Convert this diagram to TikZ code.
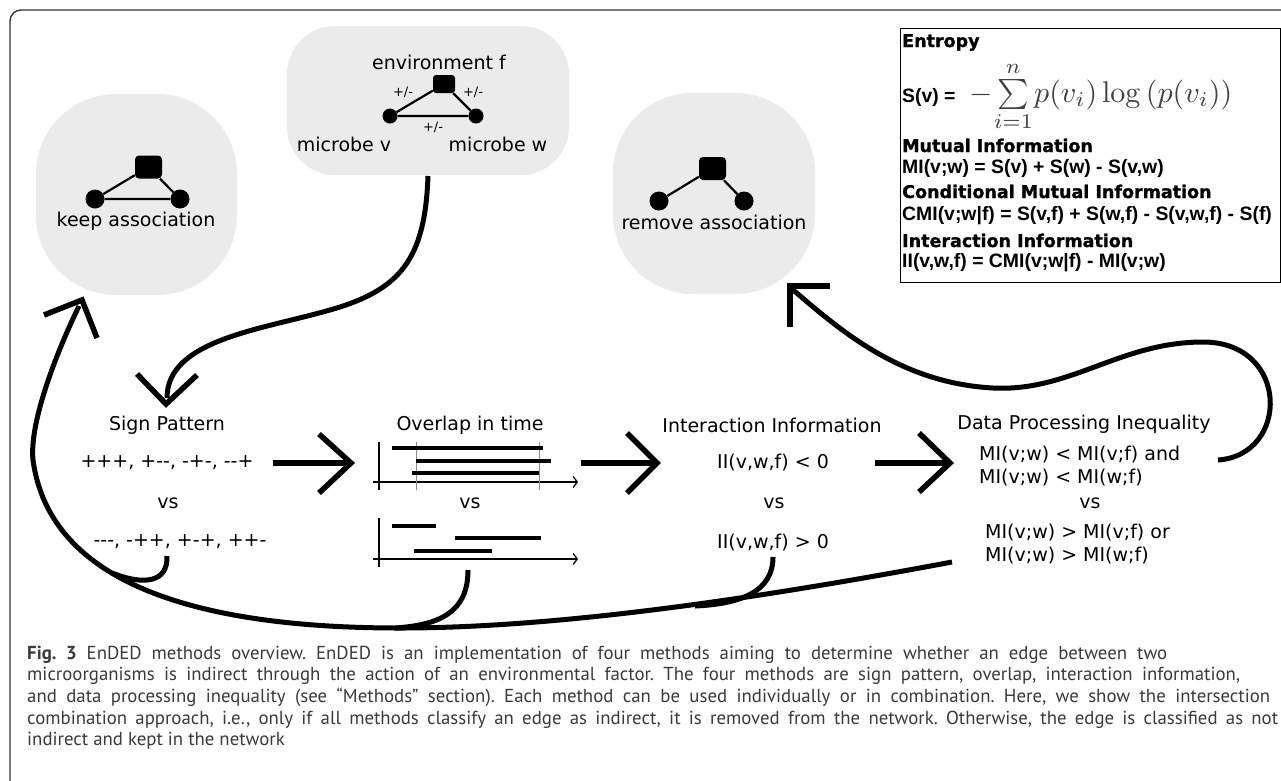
\documentclass[tikz,border=0pt]{standalone}
\usepackage[no-math]{fontspec}
\setmainfont{DejaVu Sans}[Ligatures=TeXOff]
\newfontfamily\fmlfont{Liberation Sans}[Ligatures=TeXOff]
\newfontface\headfont{DejaVu Sans Bold}[FakeBold=1.2]
\newfontfamily\capfont{PT Sans}
\usetikzlibrary{arrows.meta}
\definecolor{blobgray}{HTML}{EBEBEB}
\definecolor{captext}{HTML}{3A3A3A}
\frenchspacing
\begin{document}
\begin{tikzpicture}[x=1pt,y=-1pt,
  blob/.style={fill=blobgray, draw=none, inner sep=0},
  sq/.style={fill=black, rounded corners=4pt, inner sep=0, minimum width=27pt, minimum height=23pt},
  sqs/.style={sq, minimum width=22pt, minimum height=18pt, rounded corners=3pt},
  dot/.style={circle, fill=black, inner sep=0, minimum size=19pt},
  dots/.style={dot, minimum size=15pt},
  gedge/.style={line width=2.2pt},
  lbl/.style={font=\fontsize{19}{22}\selectfont, inner sep=0},
  pmlbl/.style={font=\fontsize{13}{15}\selectfont, inner sep=0},
  head/.style={font=\headfont\fontsize{17.5}{20}\selectfont, inner sep=0, anchor=base west},
  fml/.style={font=\fmlfont\bfseries\fontsize{19.4}{22}\selectfont, inner sep=0, anchor=base west},
  flow/.style={line width=5pt},
  shaft/.style={line width=6pt},
  chev/.style={line width=5.5pt},
  axisline/.style={line width=1.3pt},
  bar/.style={line width=3.2pt},
  guide/.style={line width=0.8pt, black!45},
  capline/.style={font=\capfont\fontsize{18.8}{22}\selectfont, text=captext, inner sep=0, anchor=base west}
]
\useasboundingbox (0,0) rectangle (1281,780);
\clip (0,0) rectangle (1281,780);
\fill[white] (0,0) rectangle (1281,780);
% outer frame
\draw[line width=1.4pt, black!80, rounded corners=11pt] (10,800) -- (10,10) -- (1300,10);

% keep association
\node[blob, minimum width=201pt, minimum height=201pt, rounded corners=80pt] (keepblob) at (136.5,194.5) {};
\node[sq] (kf) at (148.5,167) {};
\node[dot] (kv) at (95,199) {};
\node[dot] (kw) at (180,199) {};
\draw[gedge] (kv) -- (kf) -- (kw) -- (kv);
\node[lbl] (keeptxt) at (136,221) {keep association};

% environment
\node[blob, minimum width=282pt, minimum height=149pt, rounded corners=48pt] (envblob) at (428,100.5) {};
\node[lbl] (envtxt) at (439,62) {environment f};
\node[sqs] (ef) at (444,84) {};
\node[dots] (ev) at (390,116) {};
\node[dots] (ew) at (476,116) {};
\draw[gedge] (ev) -- (ef) -- (ew) -- (ev);
\node[pmlbl] (pm1) at (403,92) {+/-};
\node[pmlbl] (pm2) at (473,92) {+/-};
\node[pmlbl] (pm3) at (433,127) {+/-};
\node[lbl] (mv) at (344,144) {microbe v};
\node[lbl] (mw) at (498,144) {microbe w};

% remove association
\node[blob, minimum width=202pt, minimum height=201pt, rounded corners=80pt] (remblob) at (714,193.5) {};
\node[sq] (rf) at (712.5,168.5) {};
\node[dot] (rv) at (659,201) {};
\node[dot] (rw) at (744,201) {};
\draw[gedge] (rv) -- (rf) -- (rw);
\node[lbl] (remtxt) at (714,222) {remove association};

% formula box
\node[draw=black, line width=1pt, minimum width=380pt, minimum height=254pt, inner sep=0] (fbox) at (1090,155) {};
\node[head] (h1) at (902,47) {Entropy};
\node[fml] (f1) at (902,102) {S(v) =};
\node[anchor=base west, inner sep=0, text=black!75] (f1m) at (969,102) {\scalebox{3.0}{$-\sum\limits_{\makebox[0pt]{$\scriptstyle i=1$}}^{n} p(v_i)\log\left(p(v_i)\right)$}};
\node[head] (h2) at (902,152) {Mutual Information};
\node[fml] (f2) at (902,173) {MI(v;w) = S(v) + S(w) - S(v,w)};
\node[head] (h3) at (902,198) {Conditional Mutual Information};
\node[fml] (f3) at (902,220) {CMI(v;w|f) = S(v,f) + S(w,f) - S(v,w,f) - S(f)};
\node[head] (h4) at (902,247) {Interaction Information};
\node[fml] (f4) at (902,267) {II(v,w,f) = CMI(v;w|f) - MI(v;w)};

% sign pattern
\node[lbl] (sp) at (167,425) {Sign Pattern};
\node[lbl] (sp1) at (167,463) {+++, +--, -+-, --+};
\node[lbl] (spvs) at (168,503) {vs};
\node[lbl] (sp2) at (180,542) {---, -++, +-+, ++-};

% overlap
\node[lbl] (ov) at (470,425) {Overlap in time};
\draw[axisline] (379,442) -- (379,490);
\draw[axisline, -{Straight Barb[length=4pt,width=11pt]}] (373,482) -- (578,482);
\draw[guide] (416,442) -- (416,490);
\draw[guide] (539,442) -- (539,490);
\draw[bar] (392,448) -- (543,448);
\draw[bar] (416,461) -- (551,461);
\draw[bar] (412,473) -- (539,473);
\node[lbl] (ovvs) at (470,503) {vs};
\draw[axisline] (379,518) -- (379,567);
\draw[axisline, -{Straight Barb[length=4pt,width=11pt]}] (373,559) -- (578,559);
\draw[bar] (392,526) -- (436,526);
\draw[bar] (455,538) -- (541,538);
\draw[bar] (414,551) -- (492,551);

% interaction information
\node[lbl] (ii) at (772,425) {Interaction Information};
\node[lbl] (ii1) at (773,463) {II(v,w,f) < 0};
\node[lbl] (iivs) at (774,503) {vs};
\node[lbl] (ii2) at (773,543) {II(v,w,f) > 0};

% data processing inequality
\node[lbl] (dpi) at (1084,424) {Data Processing Inequality};
\node[lbl, anchor=base west] (d1) at (979,460) {MI(v;w) < MI(v;f) and};
\node[lbl, anchor=base west] (d2) at (979,483) {MI(v;w) < MI(w;f)};
\node[lbl] (dvs) at (1090,503) {vs};
\node[lbl, anchor=base west] (d3) at (985,538) {MI(v;w) > MI(v;f) or};
\node[lbl, anchor=base west] (d4) at (985,561) {MI(v;w) > MI(w;f)};

% straight arrows
\coordinate (a1s) at (273,463); \coordinate (a1e) at (348,463);
\draw[shaft] (a1s) -- (a1e);
\draw[chev] (319,434) -- (351,463) -- (319,493);
\coordinate (a2s) at (581,463); \coordinate (a2e) at (653,463);
\draw[shaft] (a2s) -- (a2e);
\draw[chev] (627,433) -- (657,463) -- (627,493);
\coordinate (a3s) at (875,463); \coordinate (a3e) at (946,463);
\draw[shaft] (a3s) -- (a3e);
\draw[chev] (919,433) -- (950,463) -- (919,492);

% environment -> sign pattern
\coordinate (cA0) at (428,176);
\coordinate (cA1) at (167,398);
\draw[flow] (cA0) .. controls (425,260) and (400,290) .. (330,310) .. controls (260,330) and (167,340) .. (cA1);
\draw[chev] (137,374) -- (166,404) -- (197,375);

% data processing -> remove association
\coordinate (cB0) at (1218,460);
\coordinate (cB1) at (792,289);
\draw[flow] (cB0) .. controls (1290,455) and (1290,342) .. (1203,342) .. controls (1120,342) and (1070,392) .. (993,388) .. controls (900,383) and (840,330) .. (cB1);
\draw[chev] (830,286) -- (790,286) -- (790,327);

% not indirect -> keep association
\coordinate (cC0) at (952,562);
\coordinate (cC1) at (79,306);
\draw[flow] (cC0) .. controls (760,598) and (560,628) .. (400,628) .. controls (200,628) and (50,585) .. (33,460) .. controls (29,420) and (60,345) .. (cC1);
\draw[chev] (44,315) -- (82,300) -- (97,338);
\draw[flow] (167,556) .. controls (168,582) and (145,586) .. (112,573);
\draw[flow] (468,570) .. controls (468,612) and (440,625) .. (395,628);
\draw[flow] (773,557) .. controls (773,592) and (740,604) .. (695,606);

% caption
\node[capline] (cap1) at (27,659) {\makebox[1140pt][s]{\textbf{Fig. 3} EnDED methods overview. EnDED is an implementation of four methods aiming to determine whether an edge between two}};
\node[capline] (cap2) at (27,680.7) {\makebox[1213pt][s]{microorganisms is indirect through the action of an environmental factor. The four methods are sign pattern, overlap, interaction information,}};
\node[capline] (cap3) at (27,702.4) {\makebox[1243pt][s]{and data processing inequality (see “Methods” section). Each method can be used individually or in combination. Here, we show the intersection}};
\node[capline] (cap4) at (27,724.1) {\makebox[1251pt][s]{combination approach, i.e., only if all methods classify an edge as indirect, it is removed from the network. Otherwise, the edge is classified as not}};
\node[capline] (cap5) at (27,745.8) {indirect and kept in the network};
\end{tikzpicture}
\end{document}
